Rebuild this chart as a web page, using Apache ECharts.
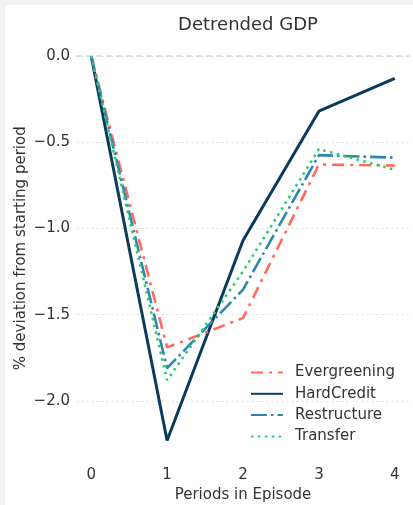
<!DOCTYPE html>
<html>
<head>
<meta charset="utf-8">
<script src="https://cdn.jsdelivr.net/npm/echarts@6/dist/echarts.min.js"></script>
<style>
html,body{margin:0;padding:0;background:#f2f2f2;width:413px;height:505px;overflow:hidden}
#c{position:absolute;left:5px;top:5px;width:408px;height:500px;background:#fff}
</style>
</head>
<body>
<div id="c"></div>
<script>
const periods = [0, 1, 2, 3, 4];
const evergreening = [0, -1.69, -1.52, -0.63, -0.635];
const hardCredit = [0, -2.23, -1.07, -0.32, -0.13];
const restructure = [0, -1.81, -1.355, -0.575, -0.59];
const transfer = [0, -1.88, -1.25, -0.54, -0.66];
const yTicks = [0, -0.5, -1.0, -1.5, -2.0];
const xTicks = [0, 1, 2, 3, 4];

const pair = arr => periods.map((p, i) => [p, arr[i]]);
const font = 'DejaVu Sans';
const fmt = v => (v < 0 ? '\u2212' : '') + Math.abs(v).toFixed(1);

const chart = echarts.init(document.getElementById('c'), null, {renderer: 'canvas', width: 408, height: 500});
chart.setOption({
  animation: false,
  textStyle: {fontFamily: font},
  title: {
    text: 'Detrended GDP', left: 238, top: 6, textAlign: 'center',
    textStyle: {fontFamily: font, fontSize: 18, fontWeight: 'normal', color: '#333'}
  },
  grid: {left: 71, right: 3, top: 32, bottom: 45.5, outerBoundsMode: 'none', containLabel: false},
  legend: {
    orient: 'vertical', left: 240, top: 355,
    itemWidth: 32, itemHeight: 16, itemGap: 6.3,
    itemStyle: {opacity: 0},
    textStyle: {fontFamily: font, fontSize: 15, color: '#333', padding: [0, 0, 0, 7]},
    data: ['Evergreening', 'HardCredit', 'Restructure', 'Transfer']
  },
  xAxis: {
    type: 'value', min: -0.2, max: 4.2,
    name: 'Periods in Episode', nameLocation: 'middle', nameGap: 28, nameMoveOverlap: false,
    nameTextStyle: {fontFamily: font, fontSize: 15, color: '#333'},
    axisLine: {show: false}, axisTick: {show: false, customValues: xTicks},
    splitLine: {show: false},
    axisLabel: {customValues: xTicks, fontFamily: font, fontSize: 15, color: '#333', margin: 8}
  },
  yAxis: {
    type: 'value', min: -2.34, max: 0.11,
    name: '% deviation from starting period', nameLocation: 'middle', nameGap: 47, nameMoveOverlap: false,
    nameTextStyle: {fontFamily: font, fontSize: 15, color: '#333'},
    axisLine: {show: false}, axisTick: {show: false, customValues: yTicks},
    axisLabel: {customValues: yTicks, formatter: fmt, fontFamily: font, fontSize: 15, color: '#333', margin: 6},
    splitLine: {show: true, lineStyle: {color: '#e6e6e6', type: [3, 2], width: 1}}
  },
  series: [
    {name: 'Evergreening', type: 'line', data: pair(evergreening), symbol: 'none', z: 3,
     lineStyle: {color: '#ff6b5b', width: 2.6, type: [12, 6, 3, 6]}, itemStyle: {color: '#ff6b5b'}},
    {name: 'HardCredit', type: 'line', data: pair(hardCredit), symbol: 'none', z: 2,
     lineStyle: {color: '#0c3a5b', width: 3}, itemStyle: {color: '#0c3a5b'},
     markLine: {silent: true, symbol: 'none', label: {show: false},
       lineStyle: {color: '#d3d7dd', type: [6, 4], width: 1.6}, data: [{yAxis: 0}]}},
    {name: 'Restructure', type: 'line', data: pair(restructure), symbol: 'none', z: 4,
     lineStyle: {color: '#2e86ab', width: 2.6, type: [16, 4, 2.5, 4]}, itemStyle: {color: '#2e86ab'}},
    {name: 'Transfer', type: 'line', data: pair(transfer), symbol: 'none', z: 5,
     lineStyle: {color: '#2ecc71', width: 2.6, type: [2.6, 4.3]}, itemStyle: {color: '#2ecc71'}}
  ]
});
</script>
</body>
</html>
